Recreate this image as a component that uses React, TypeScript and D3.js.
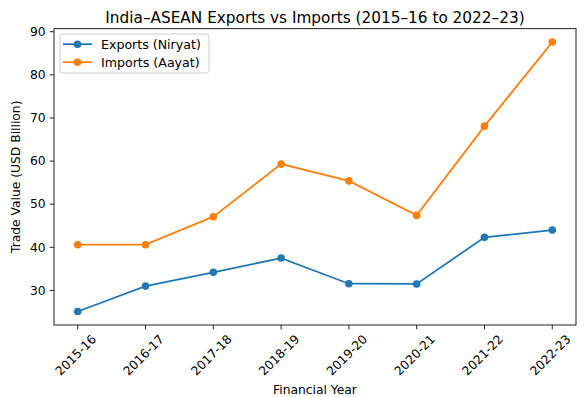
import React from "react";
import * as d3 from "d3";

const years = ["2015-16", "2016-17", "2017-18", "2018-19", "2019-20", "2020-21", "2021-22", "2022-23"];
const exportsVals = [25.1, 31.0, 34.2, 37.5, 31.55, 31.5, 42.3, 44.0];
const importsVals = [40.6, 40.6, 47.1, 59.3, 55.4, 47.4, 68.1, 87.6];
const yTicks = [30, 40, 50, 60, 70, 80, 90];

const W = 584, H = 397;
const M = { left: 54, right: 576, top: 28.6, bottom: 325 };
const FONT = "DejaVu Sans, sans-serif";
const BLUE = "#1f77b4", ORANGE = "#ff7f0e";
const FS = 12.3;

export default function App() {
  const all = [...exportsVals, ...importsVals];
  const lo = d3.min(all)!, hi = d3.max(all)!;
  const pad = (hi - lo) * 0.05;
  const x = d3.scaleLinear().domain([-0.35, years.length - 1 + 0.35]).range([M.left, M.right]);
  const y = d3.scaleLinear().domain([lo - pad, hi + pad]).range([M.bottom, M.top]);
  const line = d3.line<number>().x((_, i) => x(i)).y((d) => y(d));
  const series = [
    { name: "Exports (Niryat)", vals: exportsVals, color: BLUE },
    { name: "Imports (Aayat)", vals: importsVals, color: ORANGE },
  ];
  return (
    <svg width={W} height={H} style={{ position: "absolute", left: 0, top: 0, background: "#fff" }} fontFamily={FONT}>
      <rect width={W} height={H} fill="#fff" />
      <text x={(M.left + M.right) / 2} y={22.5} textAnchor="middle" fontSize={15.3} fill="#000">
        India–ASEAN Exports vs Imports (2015–16 to 2022–23)
      </text>
      {series.map((s) => (
        <g key={s.name}>
          <path d={line(s.vals)!} fill="none" stroke={s.color} strokeWidth={1.8} />
          {s.vals.map((v, i) => (
            <circle key={i} cx={x(i)} cy={y(v)} r={3.8} fill={s.color} />
          ))}
        </g>
      ))}
      <rect x={M.left} y={M.top} width={M.right - M.left} height={M.bottom - M.top} fill="none" stroke="#222" strokeWidth={1} />
      {yTicks.map((t) => (
        <g key={t}>
          <line x1={M.left - 4.3} x2={M.left} y1={y(t)} y2={y(t)} stroke="#222" strokeWidth={1} />
          <text x={M.left - 8.3} y={y(t)} dy="0.35em" textAnchor="end" fontSize={FS} fill="#000">{t}</text>
        </g>
      ))}
      {years.map((yr, i) => (
        <g key={yr}>
          <line x1={x(i)} x2={x(i)} y1={M.bottom} y2={M.bottom + 4.3} stroke="#222" strokeWidth={1} />
          <text
            transform={`translate(${x(i) - 2},${355}) rotate(-45)`}
            textAnchor="middle"
            dy="0.35em"
            fontSize={FS}
            fill="#000"
          >
            {yr}
          </text>
        </g>
      ))}
      <text x={(M.left + M.right) / 2} y={393.5} textAnchor="middle" fontSize={FS} fill="#000">Financial Year</text>
      <text transform={`translate(20,${(M.top + M.bottom) / 2}) rotate(-90)`} textAnchor="middle" fontSize={FS} fill="#000">
        Trade Value (USD Billion)
      </text>
      <g>
        <rect x={60} y={34} width={149} height={39} rx={2.5} fill="#fff" fillOpacity={0.8} stroke="#ccc" strokeWidth={1} />
        {series.map((s, i) => (
          <g key={s.name} transform={`translate(0,${44.2 + i * 18})`}>
            <line x1={63} x2={92} y1={0} y2={0} stroke={s.color} strokeWidth={1.8} />
            <circle cx={77.5} cy={0} r={3.8} fill={s.color} />
            <text x={101} y={0} dy="0.35em" fontSize={12.6} fill="#000">{s.name}</text>
          </g>
        ))}
      </g>
    </svg>
  );
}
